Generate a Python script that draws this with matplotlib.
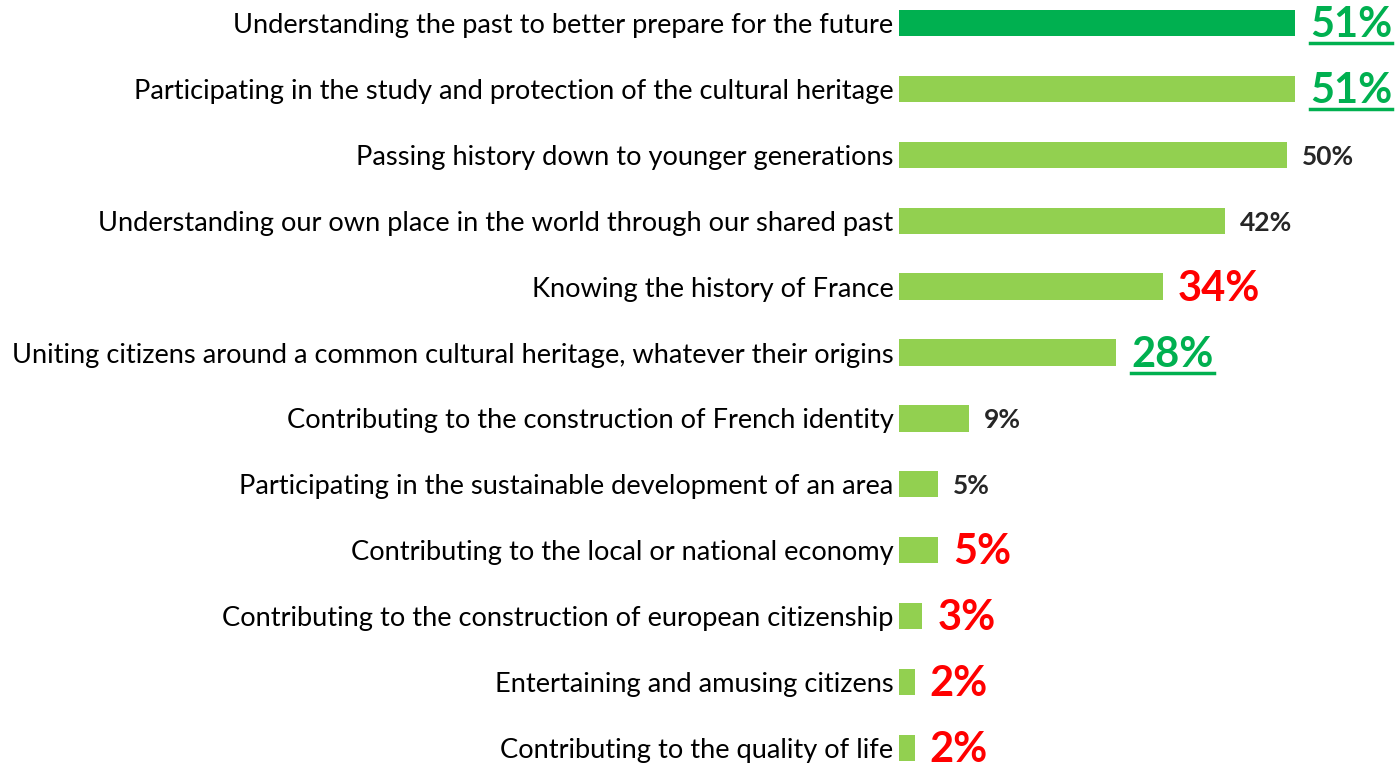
import matplotlib
matplotlib.use("Agg")
import matplotlib.pyplot as plt
from matplotlib.lines import Line2D

categories = [
    "Understanding the past to better prepare for the future",
    "Participating in the study and protection of the cultural heritage",
    "Passing history down to younger generations",
    "Understanding our own place in the world through our shared past",
    "Knowing the history of France",
    "Uniting citizens around a common cultural heritage, whatever their origins",
    "Contributing to the construction of French identity",
    "Participating in the sustainable development of an area",
    "Contributing to the local or national economy",
    "Contributing to the construction of european citizenship",
    "Entertaining and amusing citizens",
    "Contributing to the quality of life",
]
values = [51, 51, 50, 42, 34, 28, 9, 5, 5, 3, 2, 2]
bar_colors = ["#00B050"] + ["#92D050"] * 11
# label style per row: "green" = big underlined green, "red" = big red, "plain" = small dark
label_styles = ["green", "green", "plain", "plain", "red", "green",
                "plain", "plain", "red", "red", "red", "red"]

FONT = "Lato"
plt.rcParams["font.family"] = [FONT, "DejaVu Sans"]

fig = plt.figure(figsize=(13.96, 7.67), dpi=100)
ax = fig.add_axes([0.644, 0.0, 0.356, 1.0])

ypos = list(range(len(categories)))
ax.barh(ypos, values, height=0.4, color=bar_colors)
ax.set_xlim(0, 64)
ax.set_ylim(11.29, -0.35)
ax.set_yticks(ypos)
ax.set_yticklabels(categories, fontsize=19.6, color="black")
ax.tick_params(axis="y", length=0, pad=4)
ax.set_xticks([])
for s in ax.spines.values():
    s.set_visible(False)

style_map = {
    "green": dict(color="#00B050", fontsize=30, fontweight="bold"),
    "red": dict(color="#FF0000", fontsize=30, fontweight="bold"),
    "plain": dict(color="#262626", fontsize=19, fontweight="bold"),
}

underlined = []
for y, v, st in zip(ypos, values, label_styles):
    kw = style_map[st]
    t = ax.annotate(f"{v}%", xy=(v, y), xytext=(15, -2), textcoords="offset pixels",
                    ha="left", va="center", **kw)
    if st == "green":
        underlined.append(t)

fig.canvas.draw()
r = fig.canvas.get_renderer()
for t in underlined:
    bb = t.get_window_extent(r)
    yy = bb.y0 + 1
    fig.add_artist(Line2D([bb.x0 / fig.bbox.width, bb.x1 / fig.bbox.width],
                          [yy / fig.bbox.height] * 2, color="#00B050", lw=2.5))

fig.savefig("out.png", dpi=100)
